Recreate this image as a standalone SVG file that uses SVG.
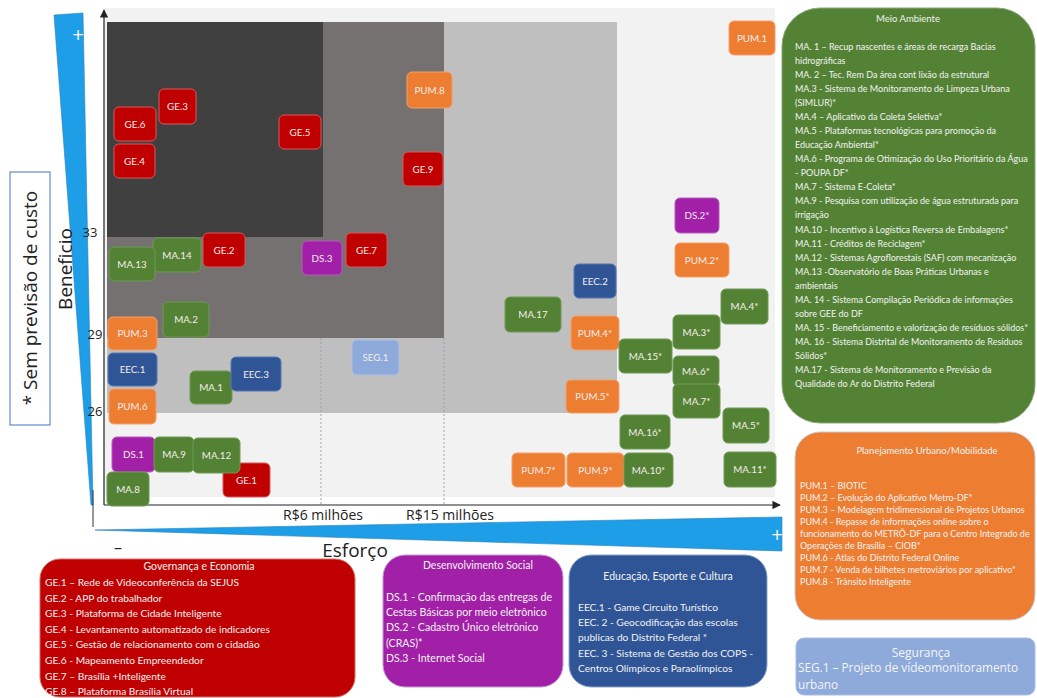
<svg xmlns="http://www.w3.org/2000/svg" width="1037" height="698" viewBox="0 0 1037 698">
<defs>
<style>
.n rect{stroke-width:1}
.n text{font-family:Lato,"Liberation Sans",sans-serif;font-size:9.8px;fill:#f4ecec;text-anchor:middle}
.red rect{fill:#c00000;stroke:#d9585a}
.grn rect{fill:#548235;stroke:#6f9a55}
.org rect{fill:#ed7d31;stroke:#f2a06a}
.blu rect{fill:#2f5597;stroke:#5676b0}
.pur rect{fill:#a21fa8;stroke:#b75cbd}
.lbl rect{fill:#8eaadb;stroke:#a9bfe5}
.lg{font-family:Lato,"Liberation Sans",sans-serif;fill:#f2f2f2}
.ax{font-family:"Open Sans","Noto Sans",sans-serif;fill:#222}
.plus{font-family:"DejaVu Sans",sans-serif;font-size:15px;fill:#fff;text-anchor:middle}
</style>
<marker id="arr" viewBox="0 0 10 10" refX="9" refY="5" markerWidth="7" markerHeight="7" orient="auto-start-reverse">
<path d="M0,0 L10,5 L0,10 z" fill="#222"/>
</marker>
</defs>
<rect width="1037" height="698" fill="#ffffff"/>

<g id="chart-zones">
<rect x="104" y="8" width="671" height="489" fill="#f2f2f2"/>
<rect x="107" y="22" width="510" height="391" fill="#bfbfbf"/>
<rect x="107" y="22" width="337" height="316" fill="#767171"/>
<rect x="107" y="22" width="216" height="215" fill="#404040"/>
<line x1="321" y1="338" x2="321" y2="505" stroke="#8fa3c4" stroke-width="1" stroke-dasharray="2,2"/>
<line x1="444" y1="338" x2="444" y2="505" stroke="#8fa3c4" stroke-width="1" stroke-dasharray="2,2"/>
</g>

<g id="wedges">
<polygon points="54,15 83,13 93,505 91,505" fill="#1e9ee6" stroke="#2a7fc0" stroke-width="0.6"/>
<line x1="93" y1="490" x2="93" y2="527" stroke="#333" stroke-width="1"/>
<text x="78" y="40" class="plus">+</text>
<polygon points="95,530 782,517 782,551" fill="#1e9ee6" stroke="#2a7fc0" stroke-width="0.6"/>
<text x="777" y="540" class="plus">+</text>
<text x="118" y="553" class="ax" font-size="16" text-anchor="middle">–</text>
</g>

<g id="connectors">
<line x1="104" y1="505" x2="104" y2="10" stroke="#222" stroke-width="1.2" marker-end="url(#arr)"/>
<line x1="104" y1="505" x2="780" y2="505" stroke="#222" stroke-width="1.2" marker-end="url(#arr)"/>
</g>

<g id="axis-labels">
<text x="90" y="237" class="ax" font-size="13" text-anchor="middle">33</text>
<text x="95" y="339" class="ax" font-size="13" text-anchor="middle">29</text>
<text x="95" y="416" class="ax" font-size="13" text-anchor="middle">26</text>
<text x="323" y="520" class="ax" font-size="14" text-anchor="middle">R$6 milhões</text>
<text x="450" y="520" class="ax" font-size="14" text-anchor="middle">R$15 milhões</text>
<text x="355" y="557" class="ax" font-size="19" text-anchor="middle">Esforço</text>
<text transform="translate(72,269) rotate(-90)" class="ax" font-size="19" text-anchor="middle">Beneficio</text>
</g>

<g id="note">
<rect x="10" y="172" width="40" height="253" fill="#fff" stroke="#4472c4" stroke-width="1"/>
<text transform="translate(37,298) rotate(-90)" class="ax" font-size="19" text-anchor="middle">* Sem previsão de custo</text>
</g>

<g id="GE.3" class="n red"><rect x="159" y="89" width="37" height="35" rx="5"/><text x="177.5" y="110">GE.3</text></g>
<g id="GE.6" class="n red"><rect x="114" y="107" width="42" height="34" rx="5"/><text x="135" y="127.5">GE.6</text></g>
<g id="GE.4" class="n red"><rect x="114" y="144" width="41" height="34" rx="5"/><text x="134.5" y="164.5">GE.4</text></g>
<g id="GE.5" class="n red"><rect x="279" y="115" width="42" height="34" rx="5"/><text x="300" y="135.5">GE.5</text></g>
<g id="PUM.8" class="n org"><rect x="407" y="72" width="45" height="36" rx="5"/><text x="429.5" y="93.5">PUM.8</text></g>
<g id="GE.9" class="n red"><rect x="403" y="152" width="40" height="34" rx="5"/><text x="423" y="172.5">GE.9</text></g>
<g id="PUM.1" class="n org"><rect x="729" y="21" width="46" height="34" rx="5"/><text x="752" y="41.5">PUM.1</text></g>
<g id="GE.2" class="n red"><rect x="203" y="233" width="42" height="34" rx="5"/><text x="224" y="253.5">GE.2</text></g>
<g id="MA.14" class="n grn"><rect x="153" y="238" width="48" height="34" rx="5"/><text x="177" y="258.5">MA.14</text></g>
<g id="MA.13" class="n grn"><rect x="109" y="247" width="46" height="34" rx="5"/><text x="132" y="267.5">MA.13</text></g>
<g id="DS.3" class="n pur"><rect x="302" y="241" width="40" height="34" rx="5"/><text x="322" y="261.5">DS.3</text></g>
<g id="GE.7" class="n red"><rect x="346" y="233" width="41" height="34" rx="5"/><text x="366.5" y="253.5">GE.7</text></g>
<g id="MA.2" class="n grn"><rect x="163" y="302" width="46" height="35" rx="5"/><text x="186" y="323">MA.2</text></g>
<g id="PUM.3" class="n org"><rect x="108" y="317" width="49" height="33" rx="5"/><text x="132.5" y="337">PUM.3</text></g>
<g id="EEC.1" class="n blu"><rect x="108" y="353" width="49" height="33" rx="5"/><text x="132.5" y="373">EEC.1</text></g>
<g id="PUM.6" class="n org"><rect x="109" y="389" width="47" height="35" rx="5"/><text x="132.5" y="410">PUM.6</text></g>
<g id="MA.1" class="n grn"><rect x="190" y="371" width="42" height="33" rx="5"/><text x="211" y="391">MA.1</text></g>
<g id="EEC.3" class="n blu"><rect x="231" y="357" width="50" height="34" rx="5"/><text x="256" y="377.5">EEC.3</text></g>
<g id="SEG.1" class="n lbl"><rect x="352" y="340" width="47" height="35" rx="5"/><text x="375.5" y="361">SEG.1</text></g>
<g id="GE.1" class="n red"><rect x="223" y="463" width="47" height="34" rx="5"/><text x="246.5" y="483.5">GE.1</text></g>
<g id="DS.1" class="n pur"><rect x="112" y="437" width="43" height="35" rx="5"/><text x="133.5" y="458">DS.1</text></g>
<g id="MA.9" class="n grn"><rect x="154" y="437" width="40" height="35" rx="5"/><text x="174" y="458">MA.9</text></g>
<g id="MA.12" class="n grn"><rect x="193" y="438" width="47" height="35" rx="5"/><text x="216.5" y="459">MA.12</text></g>
<g id="MA.8" class="n grn"><rect x="107" y="472" width="42" height="34" rx="5"/><text x="128" y="492.5">MA.8</text></g>
<g id="DS.2" class="n pur"><rect x="675" y="198" width="44" height="35" rx="5"/><text x="697" y="219">DS.2*</text></g>
<g id="PUM.2" class="n org"><rect x="675" y="243" width="54" height="34" rx="5"/><text x="702" y="263.5">PUM.2*</text></g>
<g id="EEC.2" class="n blu"><rect x="574" y="264" width="42" height="34" rx="5"/><text x="595" y="284.5">EEC.2</text></g>
<g id="MA.17" class="n grn"><rect x="505" y="297" width="56" height="35" rx="5"/><text x="533" y="318">MA.17</text></g>
<g id="MA.4" class="n grn"><rect x="721" y="289" width="47" height="35" rx="5"/><text x="744.5" y="310">MA.4*</text></g>
<g id="PUM.4" class="n org"><rect x="571" y="316" width="48" height="34" rx="5"/><text x="595" y="336.5">PUM.4*</text></g>
<g id="MA.3" class="n grn"><rect x="673" y="315" width="47" height="34" rx="5"/><text x="696.5" y="335.5">MA.3*</text></g>
<g id="MA.15" class="n grn"><rect x="619" y="339" width="53" height="34" rx="5"/><text x="645.5" y="359.5">MA.15*</text></g>
<g id="MA.6" class="n grn"><rect x="673" y="356" width="46" height="30" rx="5"/><text x="696" y="374.5">MA.6*</text></g>
<g id="MA.7" class="n grn"><rect x="673" y="384" width="47" height="34" rx="5"/><text x="696.5" y="404.5">MA.7*</text></g>
<g id="PUM.5" class="n org"><rect x="566" y="380" width="53" height="33" rx="5"/><text x="592.5" y="400">PUM.5*</text></g>
<g id="MA.16" class="n grn"><rect x="620" y="415" width="50" height="34" rx="5"/><text x="645" y="435.5">MA.16*</text></g>
<g id="MA.5" class="n grn"><rect x="723" y="408" width="46" height="35" rx="5"/><text x="746" y="429">MA.5*</text></g>
<g id="PUM.7" class="n org"><rect x="512" y="453" width="53" height="34" rx="5"/><text x="538.5" y="473.5">PUM.7*</text></g>
<g id="PUM.9" class="n org"><rect x="567" y="453" width="57" height="34" rx="5"/><text x="595.5" y="473.5">PUM.9*</text></g>
<g id="MA.10" class="n grn"><rect x="624" y="453" width="49" height="34" rx="5"/><text x="648.5" y="473.5">MA.10*</text></g>
<g id="MA.11" class="n grn"><rect x="724" y="452" width="52" height="35" rx="5"/><text x="750" y="473">MA.11*</text></g>

<g id="legend-meio-ambiente">
<rect x="782" y="8" width="253" height="415" rx="38" fill="#548235" stroke="#8aa67a" stroke-width="1"/>
<text class="lg" x="908" y="22" font-size="9.5" text-anchor="middle">Meio Ambiente</text>
<text class="lg" font-size="9">
<tspan x="795" y="49.5">MA. 1 – Recup nascentes e áreas de recarga Bacias</tspan>
<tspan x="795" y="63.6">hidrográficas</tspan>
<tspan x="795" y="77.7">MA. 2 – Tec. Rem Da área cont lixão da estrutural</tspan>
<tspan x="795" y="91.7">MA.3 - Sistema de Monitoramento de Limpeza Urbana</tspan>
<tspan x="795" y="105.8">(SIMLUR)*</tspan>
<tspan x="795" y="119.9">MA.4 – Aplicativo da Coleta Seletiva*</tspan>
<tspan x="795" y="134">MA.5 -  Plataformas tecnológicas para promoção da</tspan>
<tspan x="795" y="148">Educação Ambiental*</tspan>
<tspan x="795" y="162.1">MA.6 -  Programa de Otimização do Uso Prioritário da Água</tspan>
<tspan x="795" y="176.2">- POUPA DF*</tspan>
<tspan x="795" y="190.3">MA.7 - Sistema E-Coleta*</tspan>
<tspan x="795" y="204.4">MA.9 - Pesquisa com utilização de água estruturada para</tspan>
<tspan x="795" y="218.4">irrigação</tspan>
<tspan x="795" y="232.5">MA.10 - Incentivo à Logística Reversa de Embalagens*</tspan>
<tspan x="795" y="246.6">MA.11 - Créditos de Reciclagem*</tspan>
<tspan x="795" y="260.7">MA.12 - Sistemas Agroflorestais (SAF) com mecanização</tspan>
<tspan x="795" y="274.8">MA.13 -Observatório de Boas Práticas Urbanas e</tspan>
<tspan x="795" y="288.8">ambientais</tspan>
<tspan x="795" y="302.9">MA. 14 - Sistema Compilação Periódica de informações</tspan>
<tspan x="795" y="317">sobre GEE do DF</tspan>
<tspan x="795" y="331.1">MA. 15 - Beneficiamento e valorização de resíduos sólidos*</tspan>
<tspan x="795" y="345.2">MA. 16 - Sistema Distrital de Monitoramento de Resíduos</tspan>
<tspan x="795" y="359.2">Sólidos*</tspan>
<tspan x="795" y="373.3">MA.17 -  Sistema de Monitoramento e Previsão da</tspan>
<tspan x="795" y="387.4">Qualidade do Ar do Distrito Federal</tspan>
</text>
</g>

<g id="legend-planejamento">
<rect x="795" y="432" width="240" height="188" rx="25" fill="#ed7d31" stroke="#c9cdd6" stroke-width="1"/>
<text class="lg" x="927" y="453.5" font-size="9.5" text-anchor="middle">Planejamento Urbano/Mobilidade</text>
<text class="lg" font-size="9">
<tspan x="800" y="488.5">PUM.1 – BIOTIC</tspan>
<tspan x="800" y="500.6">PUM.2 – Evolução do Aplicativo Metro-DF*</tspan>
<tspan x="800" y="512.7">PUM.3 – Modelagem tridimensional de Projetos Urbanos</tspan>
<tspan x="800" y="524.8">PUM.4 - Repasse de informações online sobre o</tspan>
<tspan x="800" y="536.9">funcionamento do METRÔ-DF para o Centro Integrado de</tspan>
<tspan x="800" y="549">Operações de Brasília – CIOB*</tspan>
<tspan x="800" y="561.1">PUM.6 - Atlas do Distrito Federal Online</tspan>
<tspan x="800" y="573.2">PUM.7 -  Venda de bilhetes metroviários por aplicativo*</tspan>
<tspan x="800" y="585.3">PUM.8 - Trânsito Inteligente</tspan>
</text>
</g>

<g id="legend-governanca">
<rect x="40" y="559" width="315" height="138" rx="20" fill="#c00000" stroke="#d46a6a" stroke-width="1"/>
<text class="lg" x="199" y="570" font-size="10.5" text-anchor="middle">Governança e Economia</text>
<text class="lg" font-size="10.2">
<tspan x="45" y="586">GE.1 – Rede de Videoconferência da SEJUS</tspan>
<tspan x="45" y="601.6">GE.2  - APP do trabalhador</tspan>
<tspan x="45" y="617.2">GE.3 - Plataforma de Cidade Inteligente</tspan>
<tspan x="45" y="632.8">GE.4 - Levantamento automatizado de indicadores</tspan>
<tspan x="45" y="648.4">GE.5 - Gestão de relacionamento com o cidadão</tspan>
<tspan x="45" y="664">GE.6 -  Mapeamento Empreendedor</tspan>
<tspan x="45" y="679.6">GE.7 – Brasília +Inteligente</tspan>
<tspan x="45" y="695.2">GE.8 – Plataforma Brasília Virtual</tspan>
</text>
</g>

<g id="legend-desenvolvimento">
<rect x="383" y="555" width="180" height="132" rx="22" fill="#a21fa8" stroke="#c49ad0" stroke-width="1"/>
<text class="lg" x="478" y="569" font-size="10.5" text-anchor="middle">Desenvolvimento Social</text>
<text class="lg" font-size="10.6">
<tspan x="386" y="601">DS.1 - Confirmação das entregas de</tspan>
<tspan x="386" y="616.2">Cestas Básicas por meio eletrônico</tspan>
<tspan x="386" y="631.4">DS.2 - Cadastro Único eletrônico</tspan>
<tspan x="386" y="646.6">(CRAS)*</tspan>
<tspan x="386" y="661.8">DS.3 - Internet Social</tspan>
</text>
</g>

<g id="legend-educacao">
<rect x="569" y="555" width="198" height="132" rx="22" fill="#2f5597" stroke="#8ea3c8" stroke-width="1"/>
<text class="lg" x="668" y="580" font-size="10.5" text-anchor="middle">Educação, Esporte e Cultura</text>
<text class="lg" font-size="10.2">
<tspan x="578" y="611">EEC.1 - Game Circuito Turístico</tspan>
<tspan x="578" y="626.2">EEC. 2 - Geocodificação das escolas</tspan>
<tspan x="578" y="641.4">publicas do Distrito Federal *</tspan>
<tspan x="578" y="656.6">EEC. 3 - Sistema de Gestão dos COPS -</tspan>
<tspan x="578" y="671.8">Centros Olímpicos e Paraolímpicos</tspan>
</text>
</g>

<g id="legend-seguranca">
<rect x="796" y="638" width="239" height="57" rx="8" fill="#8eaadb" stroke="#aabde0" stroke-width="1"/>
<text x="921" y="656.5" font-family="'Open Sans','Noto Sans',sans-serif" font-size="12" fill="#f4f4f4" text-anchor="middle">Segurança</text>
<text font-family="'Open Sans','Noto Sans',sans-serif" font-size="11.8" fill="#f4f4f4">
<tspan x="798" y="671.5">SEG.1 – Projeto de vídeomonitoramento</tspan>
<tspan x="798" y="688.5">urbano</tspan>
</text>
</g>
</svg>
